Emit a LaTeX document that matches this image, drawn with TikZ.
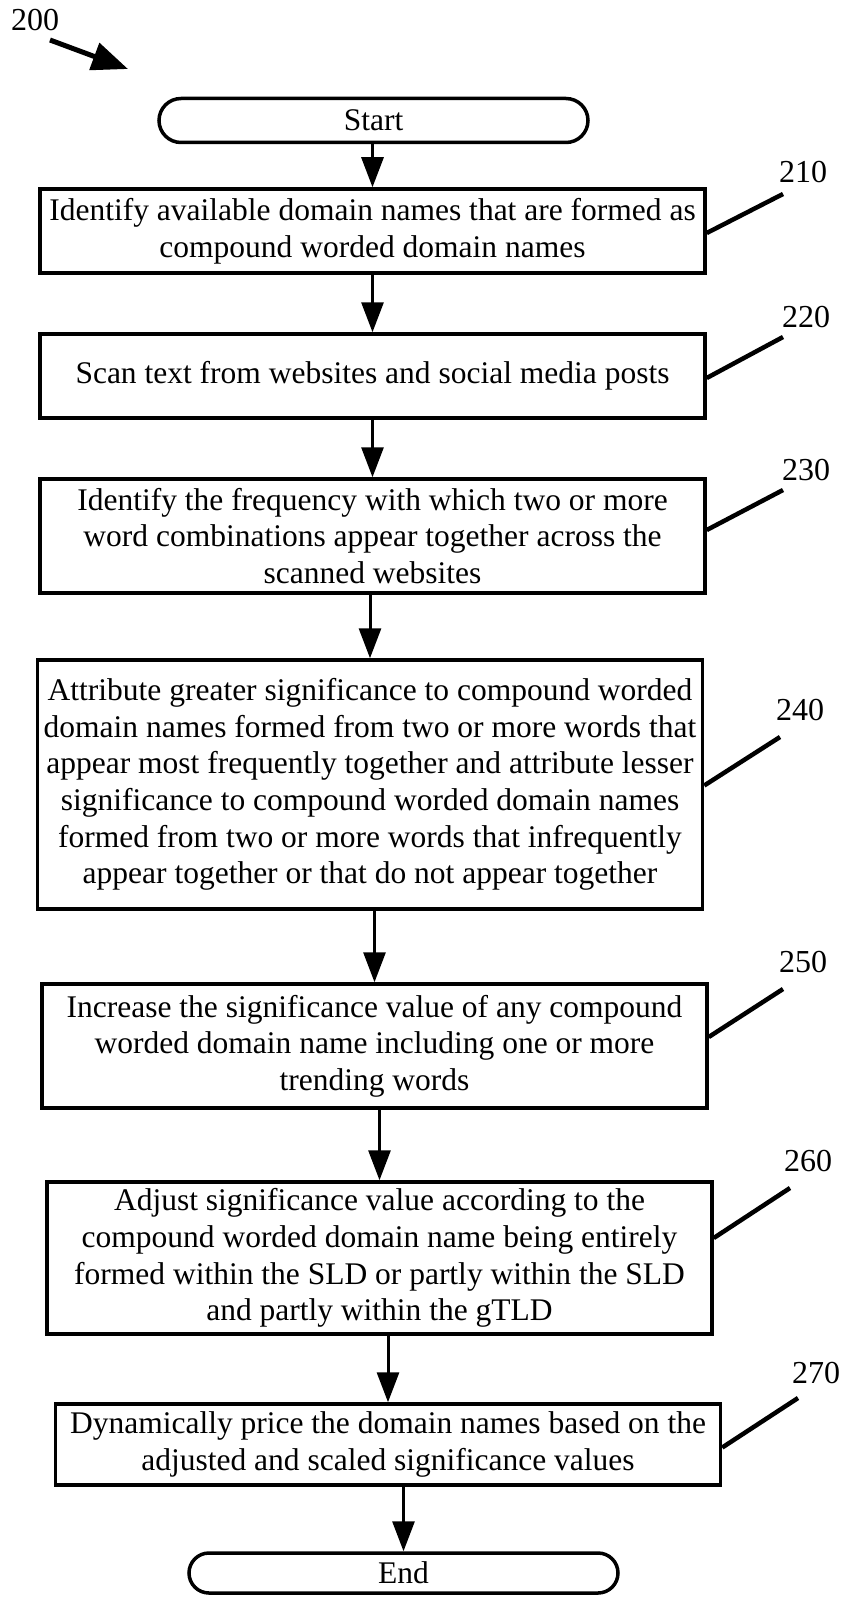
\documentclass[tikz,border=0pt]{standalone}
\usepackage{fontspec}
\setmainfont{Liberation Serif}
\usetikzlibrary{arrows.meta,shapes.misc}
\begin{document}
\begin{tikzpicture}[x=1pt,y=-1pt,
 box/.style={draw, line width=3.5pt, rectangle, align=center, inner sep=0pt, minimum width=665pt, font=\fontsize{31.5}{36.7}\selectfont},
 term/.style={draw, line width=3.5pt, rounded rectangle, minimum width=429pt, inner sep=0pt, font=\fontsize{31.5}{36}\selectfont},
 flow/.style={line width=3pt, -{Triangle[length=30pt,width=22pt]}},
 leader/.style={line width=4.5pt},
 ref/.style={font=\fontsize{32}{36}\selectfont, inner sep=0pt},
 bigarrow/.style={line width=5pt, -{Triangle[length=36pt,width=28pt]}}]
\useasboundingbox (0,0) rectangle (845,1597);

% reference label 200
\node[ref] (l200) at (35,20) {200};
\coordinate (a200s) at (50,40);
\coordinate (a200e) at (128,69);
\draw[bigarrow] (a200s) -- (a200e);

% flow nodes
\node[term, minimum height=44pt] (start) at (373.5,120.5) {Start};
\node[box, minimum height=84pt] (b210) at (372.5,231)
 {Identify available domain names that are formed as\\compound worded domain names};
\node[box, minimum height=84pt] (b220) at (372.5,376)
 {Scan text from websites and social media posts};
\node[box, minimum height=114pt] (b230) at (372.5,536)
 {Identify the frequency with which two or more\\word combinations appear together across the\\scanned websites};
\node[box, minimum height=249pt] (b240) at (370,784.5)
 {Attribute greater significance to compound worded\\domain names formed from two or more words that\\appear most frequently together and attribute lesser\\significance to compound worded domain names\\formed from two or more words that infrequently\\appear together or that do not appear together};
\node[box, minimum height=124pt] (b250) at (374.5,1046)
 {Increase the significance value of any compound\\worded domain name including one or more\\trending words};
\node[box, minimum height=152pt] (b260) at (379.5,1258)
 {Adjust significance value according to the\\compound worded domain name being entirely\\formed within the SLD or partly within the SLD\\and partly within the gTLD};
\node[box, minimum height=81pt] (b270) at (388,1444.5)
 {Dynamically price the domain names based on the\\adjusted and scaled significance values};
\node[term, minimum height=40pt] (end) at (403.5,1573) {End};

% flow connectors
\draw[flow] (b210.north |- start.south) -- (b210.north);
\draw[flow] (b220.north |- b210.south) -- (b220.north);
\draw[flow] (b230.north |- b220.south) -- (b230.north);
\draw[flow] (b240.north |- b230.south) -- (b240.north);
\draw[flow] (b250.north |- b240.south) -- (b250.north);
\draw[flow] (b260.north |- b250.south) -- (b260.north);
\draw[flow] (b270.north |- b260.south) -- (b270.north);
\draw[flow] (end.north |- b270.south) -- (end.north);

% reference numerals and leaders
\node[ref] (l210) at (803,172) {210};
\node[ref] (l220) at (806,317) {220};
\node[ref] (l230) at (806,470) {230};
\node[ref] (l240) at (800,710) {240};
\node[ref] (l250) at (803,962) {250};
\node[ref] (l260) at (808,1161) {260};
\node[ref] (l270) at (816,1373) {270};

\coordinate (e210) at (783,194);
\coordinate (e220) at (783,337);
\coordinate (e230) at (783,490);
\coordinate (e240) at (780,737);
\coordinate (e250) at (783,989);
\coordinate (e260) at (790,1188);
\coordinate (e270) at (798,1398);

\draw[leader] ([yshift=-2pt]b210.east) -- (e210);
\draw[leader] ([yshift=-2pt]b220.east) -- (e220);
\draw[leader] ([yshift=6pt]b230.east) -- (e230);
\draw[leader] ([yshift=-1pt]b240.east) -- (e240);
\draw[leader] ([yshift=9pt]b250.east) -- (e250);
\draw[leader] ([yshift=20pt]b260.east) -- (e260);
\draw[leader] ([yshift=-3pt]b270.east) -- (e270);
\end{tikzpicture}
\end{document}
